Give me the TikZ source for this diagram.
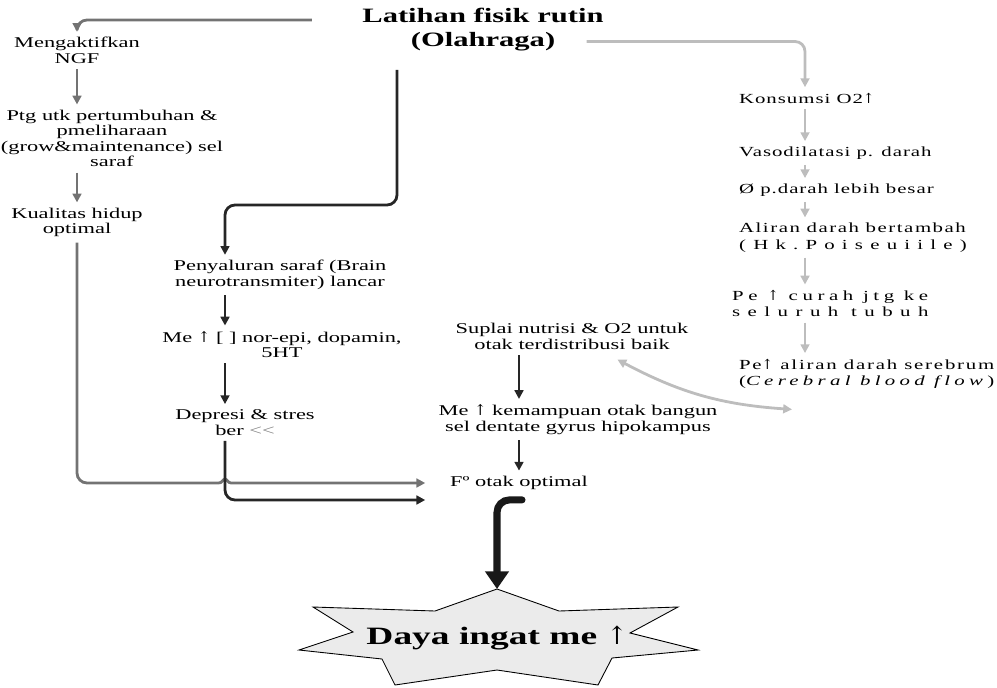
\documentclass[tikz,border=0pt]{standalone}
\usepackage{fontspec}
\setmainfont{Liberation Serif}
\newfontfamily\wide{Liberation Serif}[FakeStretch=1.5]
\newfontfamily\arrowfont{DejaVu Serif}
\usetikzlibrary{arrows.meta, calc}

\definecolor{midgray}{HTML}{737373}
\definecolor{darkline}{HTML}{262626}
\definecolor{lightline}{HTML}{BDBDBD}
\definecolor{starfill}{HTML}{EBEBEB}
\newcommand\spc[2]{{\addfontfeature{LetterSpace=#1}#2}}
\newcommand\up{{\arrowfont\mdseries ↑}}

\tikzset{
  box/.style={inner sep=1pt, align=center, font=\wide\fontsize{8.5}{8.8}\selectfont},
  rbox/.style={inner sep=1pt, align=left, anchor=west, font=\wide\fontsize{7.9}{9.3}\selectfont},
  grayarrow/.style={draw=midgray, line width=1.6pt, rounded corners=0.2cm, shorten <=2pt, shorten >=2pt, -{Triangle[length=5pt,width=5pt]}},
  darkarrow/.style={draw=darkline, line width=1.6pt, rounded corners=0.2cm, shorten <=2pt, shorten >=2pt, -{Triangle[length=5pt,width=5pt]}},
  lightarrow/.style={draw=lightline, line width=1.6pt, rounded corners=0.2cm, shorten <=2pt, shorten >=2pt, -{Triangle[length=5pt,width=5pt]}},
}

\begin{document}
\begin{tikzpicture}[x=0.02cm, y=-0.02cm]
  \useasboundingbox (0,0) rectangle (997,687);

  % Title
  \node[box, font=\wide\bfseries\fontsize{11.6}{13.6}\selectfont] (latihan) at (483,30) {Latihan fisik rutin\\(Olahraga)};

  % Left column
  \node[box] (ngf) at (77,50.5) {Mengaktifkan\\NGF};
  \node[box] (ptg) at (112,138.5) {Ptg utk pertumbuhan \&\\pmeliharaan\\(grow\&maintenance) sel\\saraf};
  \node[box] (kualitas) at (77,222.5) {Kualitas hidup\\optimal};

  % Second column
  \coordinate (dk) at (225,0);
  \coordinate (bendpt) at (225,205);
  \node[box] (salur) at (280,275) {Penyaluran saraf (Brain\\neurotransmiter) lancar};
  \node[box] (zat) at (282,344.5) {Me \up{} [ ] nor-epi, dopamin,\\5HT};
  \node[box] (depresi) at (245,422.5) {Depresi \& stres\\ber \textcolor{gray}{<\kern0pt<}};

  % Middle column
  \node[box] (suplai) at (572,336.5) {Suplai nutrisi \& O2 untuk\\otak terdistribusi baik};
  \node[box] (bangun) at (578,419.5) {Me \up{} kemampuan otak bangun\\sel dentate gyrus hipokampus};
  \node[box] (fotak) at (519,483) {Fº otak optimal};

  % Right column
  \coordinate (rk) at (805,0);
  \node[rbox] (konsumsi) at (737,98) {\spc{7}{Konsumsi O2\up}};
  \node[rbox] (vaso) at (737,153) {\spc{7}{Vasodilatasi p. darah}};
  \node[rbox] (diameter) at (737,190) {\spc{7}{Ø p.darah lebih besar}};
  \node[rbox] (aliran) at (737,237.5) {\spc{11}{Aliran darah bertambah}\\\spc{52}{(Hk.Poiseuiile)}};
  \node[rbox] (curah) at (730,303.5) {\spc{33}{Pe \up{} curah jtg ke}\\\spc{54}{seluruh tubuh}};
  \node[rbox] (serebrum) at (737,373.5) {\spc{13}{Pe\up{} aliran darah serebrum}\\\spc{31}{(\textit{Cerebral blood flow})}};

  % Star
  \draw[fill=starfill, line width=0.5pt] (497,589) coordinate (startop) -- (559,611) -- (678,607) -- (630,633)
    -- (698,650) -- (612,658) -- (598,685) -- (497,670) -- (395,685) -- (382,659) -- (299,650)
    -- (353,632) -- (313,607) -- (435,611) -- cycle;
  \node[inner sep=1pt, font=\wide\bfseries\fontsize{14.2}{16}\selectfont] (daya) at (497,638) {Daya ingat me \up};

  % Gray arrows
  \draw[grayarrow] ([shift={(-45,-10)}]latihan.west) -| (ngf.north);
  \draw[grayarrow] (ngf.south) -- (ngf.south |- ptg.north);
  \draw[grayarrow] (ngf.south |- ptg.south) -- (kualitas.north);
  \coordinate (jmp) at (dk |- fotak.west);
  \draw[grayarrow, -, shorten >=0pt] (kualitas.south) |- ([xshift=-0.12cm]jmp);
  \draw[grayarrow, sharp corners, shorten <=0pt, shorten >=13pt] ([xshift=-0.12cm]jmp)
    .. controls ([shift={(-3,0)}]jmp) and ([shift={(-2,-4)}]jmp) .. ([yshift=0.08cm]jmp)
    .. controls ([shift={(2,-4)}]jmp) and ([shift={(3,0)}]jmp) .. ([xshift=0.12cm]jmp) -- (fotak.west);

  % Dark arrows
  \draw[darkarrow] ([shift={(-86,13)}]latihan.south) |- (bendpt) -- (salur.north -| dk);
  \draw[darkarrow] (salur.south -| dk) -- (zat.north -| dk);
  \draw[darkarrow] (zat.south -| dk) -- (depresi.north -| dk);
  \draw[darkarrow, shorten >=13pt] (depresi.south -| dk) |- ([yshift=-0.34cm]fotak.west);
  \draw[darkarrow] (suplai.south -| fotak) -- (bangun.north -| fotak);
  \draw[darkarrow] (bangun.south -| fotak) -- (fotak.north);
  \draw[draw=black!90, line width=4pt, line cap=round, rounded corners=0.25cm, -{Triangle[length=10pt,width=13pt]}]
    ([shift={(3,8)}]fotak.south) -| (startop);

  % Light arrows
  \draw[lightarrow] ([shift={(100,-12)}]latihan.south) -| (konsumsi.north -| rk);
  \foreach \a/\b in {konsumsi/vaso, vaso/diameter, diameter/aliran, aliran/curah, curah/serebrum}
    \draw[lightarrow] (\a.south -| rk) -- (\b.north -| rk);
  \draw[draw=lightline, line width=1.6pt, {Triangle[length=5pt,width=5pt]}-{Triangle[length=5pt,width=5pt]}]
    ([shift={(-73,8)}]suplai.south east) to[bend right=12] ([shift={(55,19)}]serebrum.south west);
\end{tikzpicture}
\end{document}
